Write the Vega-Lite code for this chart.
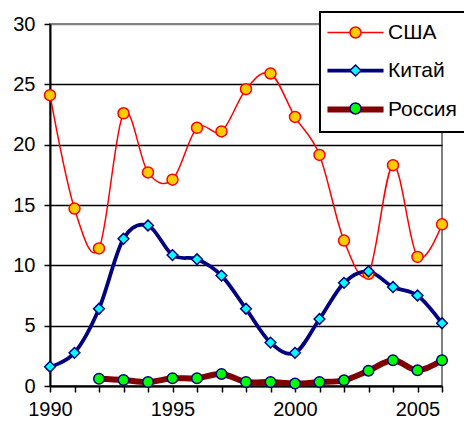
{
  "$schema": "https://vega.github.io/schema/vega-lite/v6.json",
  "width": 392,
  "height": 362,
  "autosize": "none",
  "padding": {"left": 50, "top": 24, "right": 22, "bottom": 35},
  "background": "white",
  "config": {
    "font": "Liberation Sans",
    "view": {"stroke": "#808080", "strokeWidth": 2},
    "axis": {"labelFont": "Liberation Sans", "labelFontSize": 20, "labelColor": "#000000", "title": null}
  },
  "data": {
    "values": [
      {"year": 1990, "series": "США", "value": 24.1},
      {"year": 1991, "series": "США", "value": 14.7},
      {"year": 1992, "series": "США", "value": 11.4},
      {"year": 1993, "series": "США", "value": 22.6},
      {"year": 1994, "series": "США", "value": 17.7},
      {"year": 1995, "series": "США", "value": 17.1},
      {"year": 1996, "series": "США", "value": 21.4},
      {"year": 1997, "series": "США", "value": 21.1},
      {"year": 1998, "series": "США", "value": 24.6},
      {"year": 1999, "series": "США", "value": 25.9},
      {"year": 2000, "series": "США", "value": 22.3},
      {"year": 2001, "series": "США", "value": 19.15},
      {"year": 2002, "series": "США", "value": 12.05},
      {"year": 2003, "series": "США", "value": 9.3},
      {"year": 2004, "series": "США", "value": 18.3},
      {"year": 2005, "series": "США", "value": 10.7},
      {"year": 2006, "series": "США", "value": 13.4},
      {"year": 1990, "series": "Китай", "value": 1.6},
      {"year": 1991, "series": "Китай", "value": 2.75},
      {"year": 1992, "series": "Китай", "value": 6.4},
      {"year": 1993, "series": "Китай", "value": 12.2},
      {"year": 1994, "series": "Китай", "value": 13.3},
      {"year": 1995, "series": "Китай", "value": 10.85},
      {"year": 1996, "series": "Китай", "value": 10.5},
      {"year": 1997, "series": "Китай", "value": 9.15},
      {"year": 1998, "series": "Китай", "value": 6.4},
      {"year": 1999, "series": "Китай", "value": 3.6},
      {"year": 2000, "series": "Китай", "value": 2.75},
      {"year": 2001, "series": "Китай", "value": 5.55},
      {"year": 2002, "series": "Китай", "value": 8.55},
      {"year": 2003, "series": "Китай", "value": 9.5},
      {"year": 2004, "series": "Китай", "value": 8.2},
      {"year": 2005, "series": "Китай", "value": 7.5},
      {"year": 2006, "series": "Китай", "value": 5.2},
      {"year": 1992, "series": "Россия", "value": 0.6},
      {"year": 1993, "series": "Россия", "value": 0.5},
      {"year": 1994, "series": "Россия", "value": 0.33},
      {"year": 1995, "series": "Россия", "value": 0.64},
      {"year": 1996, "series": "Россия", "value": 0.64},
      {"year": 1997, "series": "Россия", "value": 1.0},
      {"year": 1998, "series": "Россия", "value": 0.33},
      {"year": 1999, "series": "Россия", "value": 0.33},
      {"year": 2000, "series": "Россия", "value": 0.2},
      {"year": 2001, "series": "Россия", "value": 0.33},
      {"year": 2002, "series": "Россия", "value": 0.47},
      {"year": 2003, "series": "Россия", "value": 1.27},
      {"year": 2004, "series": "Россия", "value": 2.13},
      {"year": 2005, "series": "Россия", "value": 1.3},
      {"year": 2006, "series": "Россия", "value": 2.13}
    ]
  },
  "encoding": {
    "x": {
      "field": "year", "type": "quantitative",
      "scale": {"domain": [1990, 2006], "nice": false, "zero": false},
      "axis": {
        "values": [1990,1991,1992,1993,1994,1995,1996,1997,1998,1999,2000,2001,2002,2003,2004,2005,2006],
        "format": "d",
        "labelExpr": "datum.value % 5 === 0 ? datum.label : ''",
        "grid": false, "domainColor": "#000000", "domainWidth": 2,
        "tickColor": "#000000", "tickWidth": 1.5, "tickSize": 6,
        "labelPadding": 7, "labelOverlap": false, "labelFlush": false
      }
    },
    "y": {
      "field": "value", "type": "quantitative",
      "scale": {"domain": [0, 30], "nice": false},
      "axis": {
        "values": [0, 5, 10, 15, 20, 25, 30],
        "grid": true,
        "gridColor": {"condition": {"test": "datum.value === 30", "value": "#808080"}, "value": "#000000"},
        "gridWidth": 1.5,
        "domainColor": "#000000", "domainWidth": 2,
        "tickColor": "#000000", "tickWidth": 1.5, "tickSize": 6,
        "labelPadding": 9
      }
    }
  },
  "layer": [
    {
      "mark": {"type": "line", "interpolate": "cardinal"},
      "encoding": {
        "color": {
          "field": "series", "type": "nominal",
          "scale": {"domain": ["США", "Китай", "Россия"], "range": ["#FF0000", "#000080", "#800000"]},
          "legend": {
            "orient": "none", "legendX": 270, "legendY": -12, "title": null,
            "symbolType": "M-5.1,0H5.1", "symbolSize": 121, "symbolStrokeWidth": 6,
            "symbolOffset": 15, "labelOffset": 22,
            "labelFont": "Liberation Sans", "labelFontSize": 21, "labelColor": "#000000",
            "rowPadding": 16, "padding": 10,
            "fillColor": "#FFFFFF", "strokeColor": "#000000",
            "encode": {
              "symbols": {"update": {"strokeWidth": {"signal": "datum.value === 'США' ? 1.5 : 6"}}},
              "legend": {"update": {"strokeWidth": {"value": 2}}}
            }
          }
        },
        "strokeWidth": {
          "field": "series", "type": "nominal",
          "scale": {"domain": ["США", "Китай", "Россия"], "range": [1.5, 6, 6]},
          "legend": null
        }
      }
    },
    {
      "mark": {"type": "point", "filled": true, "opacity": 1, "strokeWidth": 1.5},
      "encoding": {
        "fill": {
          "field": "series", "type": "nominal", "sort": ["США", "Китай", "Россия"],
          "scale": {"range": ["#FFCC00", "#00FFFF", "#00FF00"]},
          "legend": null
        },
        "shape": {
          "field": "series", "type": "nominal", "sort": ["США", "Китай", "Россия"],
          "scale": {"range": ["circle", "diamond", "circle"]},
          "legend": {
            "orient": "none", "legendX": 270, "legendY": -12, "title": null,
            "symbolSize": 121, "symbolOffset": 15, "symbolOpacity": 1,
            "symbolFillColor": {"expr": "datum.value === 'США' ? '#FFCC00' : datum.value === 'Китай' ? '#00FFFF' : '#00FF00'"},
            "symbolStrokeColor": {"expr": "datum.value === 'США' ? '#FF0000' : '#000080'"},
            "symbolStrokeWidth": 1.5,
            "labelFont": "Liberation Sans", "labelFontSize": 21, "labelOpacity": 0,
            "labelOffset": 22, "rowPadding": 16, "padding": 10
          }
        },
        "size": {
          "field": "series", "type": "nominal", "sort": ["США", "Китай", "Россия"],
          "scale": {"range": [121, 110, 121]},
          "legend": null
        },
        "stroke": {"condition": {"test": "datum.series === 'США'", "value": "#FF0000"}, "value": "#000080"}
      }
    }
  ]
}
